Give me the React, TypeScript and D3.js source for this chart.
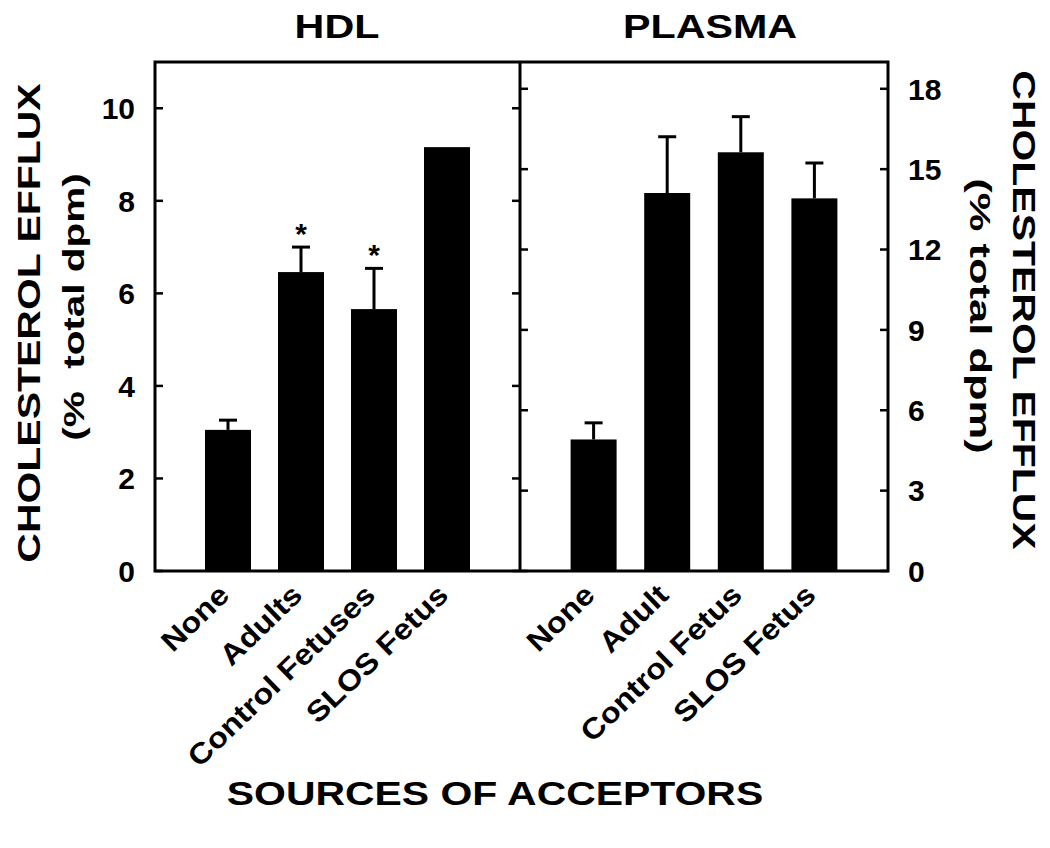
import React, { useRef, useEffect } from "react";
import * as d3 from "d3";

const hdlCats = ["None", "Adults", "Control Fetuses", "SLOS Fetus"];
const hdlVals = [3.05, 6.46, 5.66, 9.16];
const hdlErr = [0.21, 0.54, 0.88, 0];
const hdlStar = [false, true, true, false];

const plasmaCats = ["None", "Adult", "Control Fetus", "SLOS Fetus"];
const plasmaVals = [4.91, 14.11, 15.63, 13.91];
const plasmaErr = [0.62, 2.1, 1.33, 1.32];

const hdlTicks = [0, 2, 4, 6, 8, 10];
const plasmaTicks = [0, 3, 6, 9, 12, 15, 18];

const App = () => {
  const svgRef = useRef<SVGSVGElement>(null);

  useEffect(() => {
    const svg = d3.select(svgRef.current);
    svg.selectAll("*").remove();

    const font = "'Liberation Sans', Arial, sans-serif";
    const top = 62;
    const bottom = 571;
    const x0 = 155;
    const xm = 520;
    const x1 = 888;

    const yL = d3.scaleLinear().domain([0, 11]).range([bottom, top]);
    const yR = d3.scaleLinear().domain([0, 19]).range([bottom, top]);

    // text helper: stretched bold text (the original uses a wide face)
    const label = (tx: number, ty: number, rot: number, sx: number, size: number, anchor: string, txt: string) =>
      svg.append("text")
        .attr("transform", `translate(${tx},${ty}) rotate(${rot}) scale(${sx},1)`)
        .attr("text-anchor", anchor)
        .style("font-family", font)
        .style("font-weight", "bold")
        .style("font-size", size + "px")
        .style("white-space", "pre")
        .text(txt);

    const panels = [
      { cats: hdlCats, vals: hdlVals, err: hdlErr, star: hdlStar, y: yL, ticks: hdlTicks, left: x0, right: xm, title: "HDL", tx: 337 },
      { cats: plasmaCats, vals: plasmaVals, err: plasmaErr, star: [false, false, false, false], y: yR, ticks: plasmaTicks, left: xm, right: x1, title: "PLASMA", tx: 710 },
    ];

    const barW = 46;

    panels.forEach((p, pi) => {
      const x = d3.scalePoint().domain(p.cats).range([p.left, p.right]).padding(1);
      const g = svg.append("g");

      // Bars
      g.selectAll("rect.bar")
        .data(p.cats)
        .enter()
        .append("rect")
        .attr("x", (d) => x(d)! - barW / 2)
        .attr("y", (d, i) => p.y(p.vals[i]))
        .attr("width", barW)
        .attr("height", (d, i) => bottom - p.y(p.vals[i]))
        .attr("fill", "#000");

      // Error bars (upper only)
      p.cats.forEach((c, i) => {
        if (p.err[i] <= 0) return;
        const cx = x(c)!;
        const yt = p.y(p.vals[i] + p.err[i]);
        g.append("line")
          .attr("x1", cx).attr("x2", cx)
          .attr("y1", p.y(p.vals[i])).attr("y2", yt)
          .attr("stroke", "#000").attr("stroke-width", 3);
        g.append("line")
          .attr("x1", cx - 9).attr("x2", cx + 9)
          .attr("y1", yt).attr("y2", yt)
          .attr("stroke", "#000").attr("stroke-width", 3);
        if (p.star[i]) {
          g.append("text")
            .attr("x", cx)
            .attr("y", yt - 3)
            .attr("text-anchor", "middle")
            .style("font-family", font)
            .style("font-weight", "bold")
            .style("font-size", "30px")
            .text("*");
        }
      });

      // Ticks on both sides of the panel, inward
      p.ticks.forEach((t) => {
        const yy = p.y(t);
        g.append("line").attr("x1", p.left).attr("x2", p.left + 8).attr("y1", yy).attr("y2", yy)
          .attr("stroke", "#000").attr("stroke-width", 2.5);
        g.append("line").attr("x1", p.right - 8).attr("x2", p.right).attr("y1", yy).attr("y2", yy)
          .attr("stroke", "#000").attr("stroke-width", 2.5);
      });

      // Tick labels
      g.selectAll("text.tick")
        .data(p.ticks)
        .enter()
        .append("text")
        .attr("x", pi === 0 ? p.left - 20 : p.right + 20)
        .attr("y", (d) => p.y(d))
        .attr("dy", "0.36em")
        .attr("text-anchor", pi === 0 ? "end" : "start")
        .style("font-family", font)
        .style("font-weight", "bold")
        .style("font-size", "30px")
        .text((d) => d);

      // Category labels
      p.cats.forEach((c) => label(x(c)! + 3, bottom + 26, -44, 1.12, 29, "end", c));

      // Panel title
      label(p.tx, 38, 0, 1.25, 33, "middle", p.title);
    });

    // Frame
    svg.append("rect")
      .attr("x", x0).attr("y", top)
      .attr("width", x1 - x0).attr("height", bottom - top)
      .attr("fill", "none").attr("stroke", "#000").attr("stroke-width", 3);
    svg.append("line")
      .attr("x1", xm).attr("x2", xm).attr("y1", top).attr("y2", bottom)
      .attr("stroke", "#000").attr("stroke-width", 3);

    // Axis titles
    label(40, 323, -90, 1.28, 32, "middle", "CHOLESTEROL EFFLUX");
    label(84, 307, -90, 1.35, 30, "middle", "(%  total dpm)");
    label(1013, 310, 90, 1.28, 32, "middle", "CHOLESTEROL EFFLUX");
    label(970, 316, 90, 1.45, 30, "middle", "(% total dpm)");

    label(495, 805, 0, 1.24, 33, "middle", "SOURCES OF ACCEPTORS");
  }, []);

  return (
    <svg
      ref={svgRef}
      width={1050}
      height={848}
      style={{ position: "absolute", left: 0, top: 0, background: "#fff" }}
    />
  );
};

export default App;
